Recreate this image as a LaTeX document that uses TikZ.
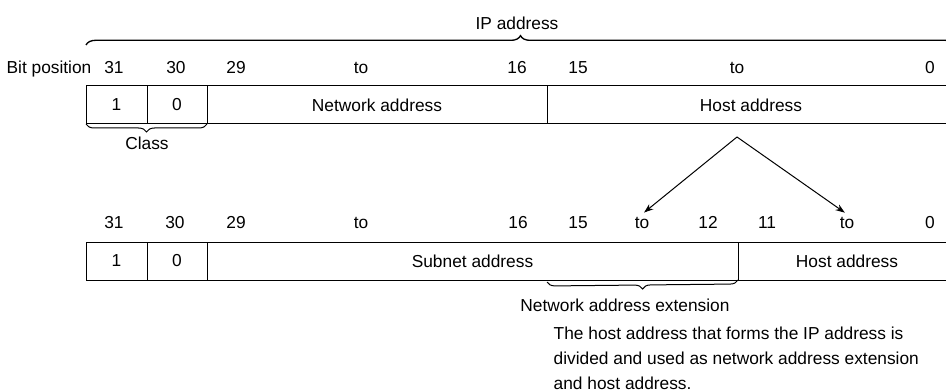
\documentclass[tikz,border=0pt]{standalone}
\usepackage{fontspec}
\setmainfont{Liberation Sans}
\usetikzlibrary{positioning,arrows.meta,decorations.pathreplacing}

\tikzset{
  field/.style={draw, rectangle, minimum height=28.5pt, inner sep=0pt, outer sep=0pt, line width=0.75pt},
  bitno/.style={inner sep=1pt, text height=9.3pt, text depth=0pt},
  brc/.style={decorate, decoration={brace, amplitude=6pt}, line width=0.75pt},
}

\begin{document}
\begin{tikzpicture}[x=0.75pt, y=-0.75pt, font=\fontsize{13}{18.75}\selectfont]
    \useasboundingbox (0,0) rectangle (946,392);
    % IP address (upper row)
    \node[field, minimum width=45.75pt, anchor=north west] (ucls1) at (86,86) {1};
    \node[field, minimum width=45pt, right=0pt of ucls1] (ucls0) {0};
    \node[field, minimum width=255pt, right=0pt of ucls0] (unet) {Network address};
    \node[field, minimum width=306pt, right=0pt of unet] (uhost) {Host address};
    \node[bitno] (bitpos) at (49,67) {Bit position};
    \foreach \x/\t/\n in {114/31/a, 176/30/b, 236/29/c, 361/to/d, 517/16/e, 578/15/f, 737/to/g, 930/0/h}
        \node[bitno] (ub\n) at (\x,67) {\t};
    \draw[brc, line width=1pt, decoration={amplitude=7pt}] (86,45) -- (955,45);
    \node (iplbl) at (517,23) {IP address};
    \draw[brc] (ucls0.south east) -- (ucls1.south west);
    \node (clslbl) at (147,143) {Class};

    % subnetted address (lower row)
    \node[field, minimum width=45.75pt, anchor=north west] (lcls1) at (86,242) {1};
    \node[field, minimum width=45pt, right=0pt of lcls1] (lcls0) {0};
    \node[field, minimum width=398.25pt, right=0pt of lcls0] (lsub) {Subnet address};
    \node[field, minimum width=163.5pt, right=0pt of lsub] (lhost) {Host address};
    \foreach \x/\t/\n in {114/31/a, 175/30/b, 236/29/c, 361/to/d, 518/16/e, 578/15/f, 642/to/g, 708/12/h, 767/11/i, 847/to/j, 930/0/k}
        \node[bitno] (lb\n) at (\x,222) {\t};
    \coordinate (extl) at (547,282);
    \draw[brc] (lsub.south east) -- (extl);
    \node (extlbl) at (625,305) {Network address extension};
    \node[anchor=west, align=left] (note) at (549,358)
        {The host address that forms the IP address is\\
         divided and used as network address extension\\
         and host address.};

    % host address is split
    \coordinate (split) at (737,137);
    \draw[-{Stealth[length=7pt,width=5pt]}, line width=0.75pt, shorten >=2pt] (split) -- (lbg.north);
    \draw[-{Stealth[length=7pt,width=5pt]}, line width=0.75pt, shorten >=2pt] (split) -- (lbj.north);
\end{tikzpicture}
\end{document}
